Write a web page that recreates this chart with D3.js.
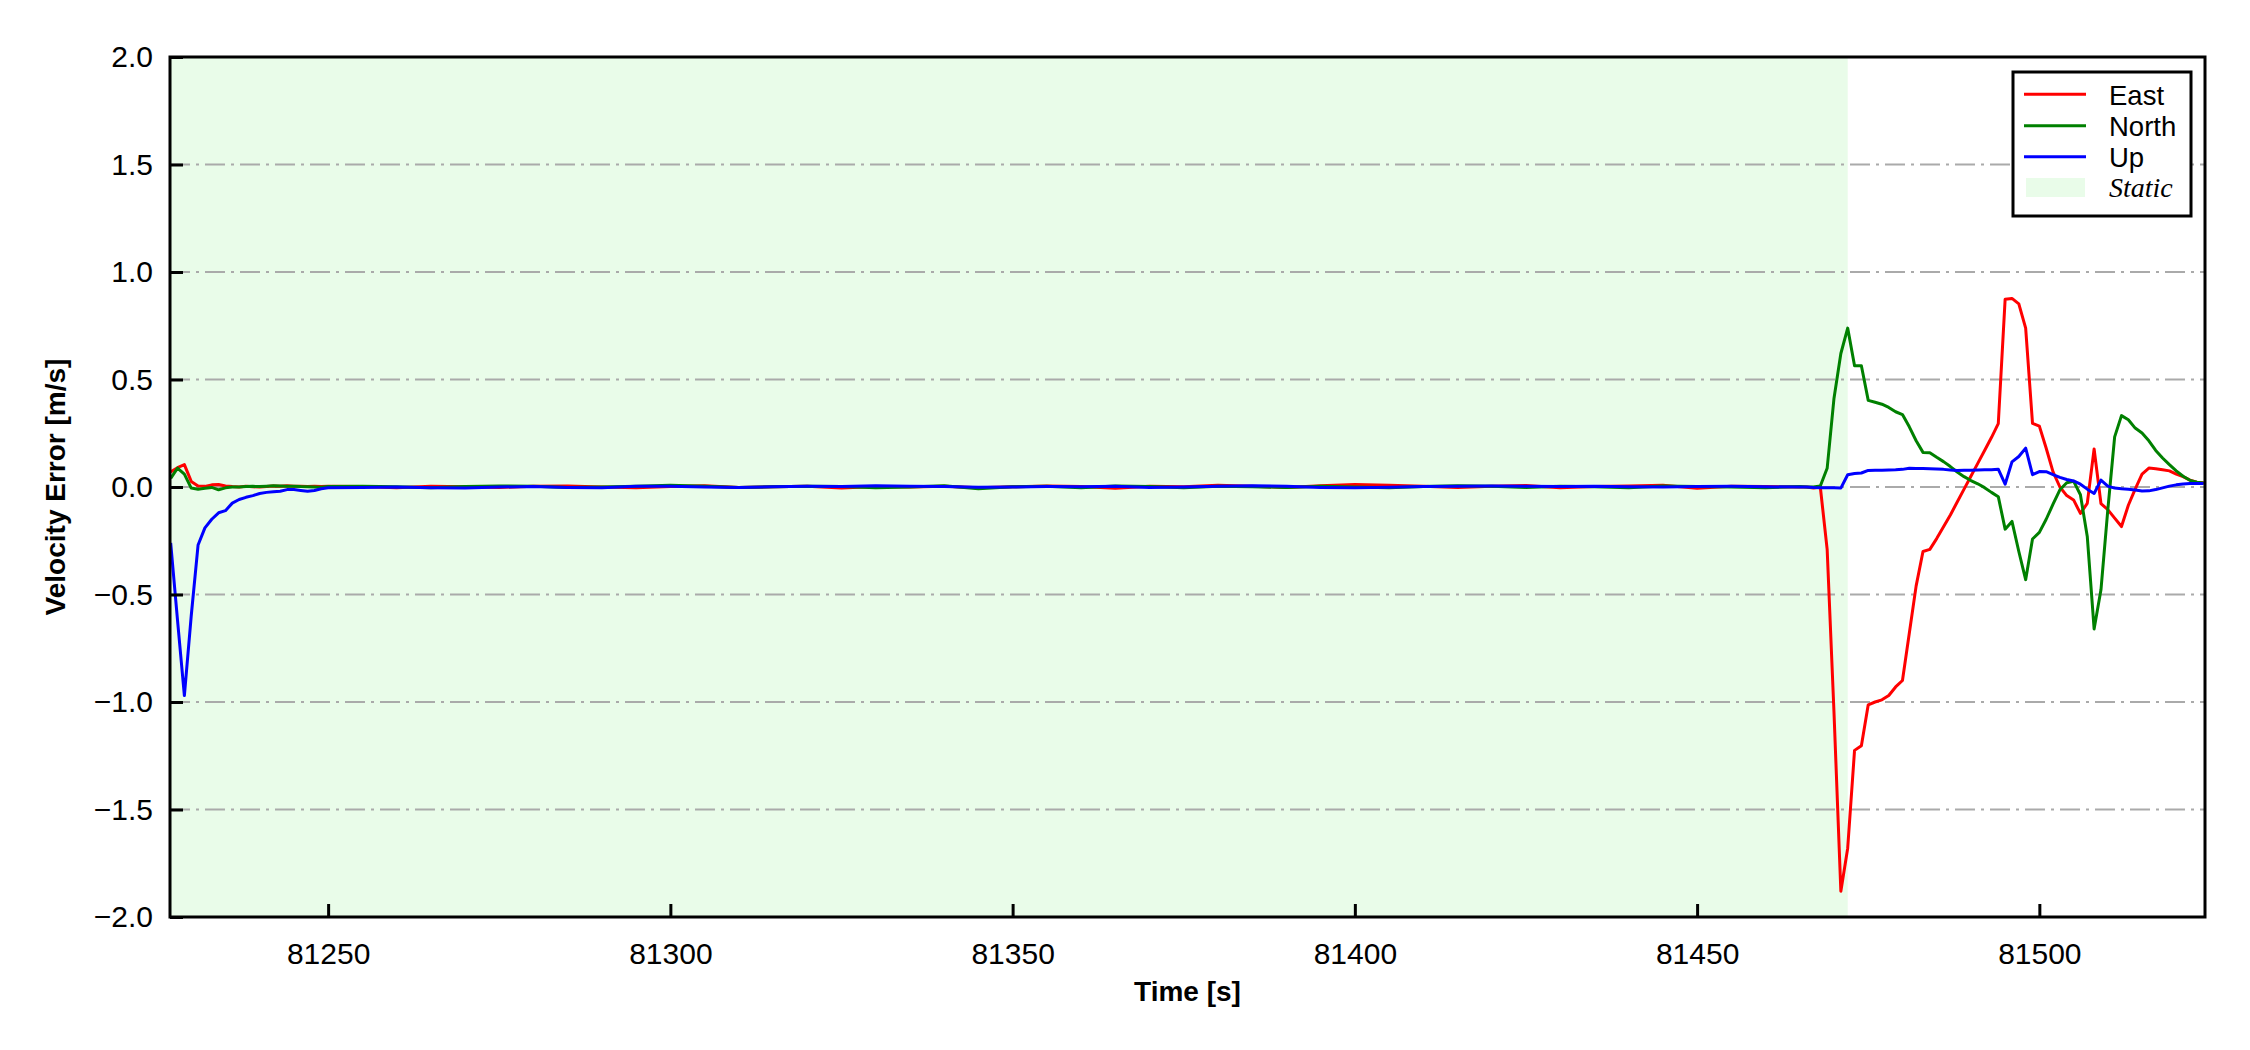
<!DOCTYPE html>
<html>
<head>
<meta charset="utf-8">
<script src="https://cdn.jsdelivr.net/npm/d3@7"></script>
<style>
  html, body { margin: 0; padding: 0; background: #fff; }
  svg { display: block; }
</style>
</head>
<body>
<svg id="chart" width="2250" height="1050"></svg>
<script>
// ---------------- DATA ----------------
const times = [
  81227, 81228, 81229, 81230, 81231, 81232, 81233, 81234, 81235, 81236,
  81237, 81238, 81239, 81240, 81241, 81242, 81243, 81244, 81245, 81246,
  81247, 81248, 81249, 81250,
  81255, 81260, 81265, 81270, 81275, 81280, 81285, 81290, 81295, 81300,
  81305, 81310, 81315, 81320, 81325, 81330, 81335, 81340, 81345, 81350,
  81355, 81360, 81365, 81370, 81375, 81380, 81385, 81390, 81395, 81400,
  81405, 81410, 81415, 81420, 81425, 81430, 81435, 81440, 81445, 81450,
  81455, 81460, 81465,
  81466, 81467, 81468, 81469, 81470, 81471, 81472, 81473, 81474, 81475,
  81476, 81477, 81478, 81479, 81480, 81481, 81482, 81483, 81484, 81485,
  81486, 81487, 81488, 81489, 81490, 81491, 81492, 81493, 81494, 81495,
  81496, 81497, 81498, 81499, 81500, 81501, 81502, 81503, 81504, 81505,
  81506, 81507, 81508, 81509, 81510, 81511, 81512, 81513, 81514, 81515,
  81516, 81517, 81518, 81519, 81520, 81521, 81522, 81523, 81524
];

const east = [
  0.07, 0.09, 0.104, 0.026, 0.005, 0.003, 0.01, 0.012, 0.005, 0.002,
  0.0, 0.003, 0.001, 0.0, 0.002, 0.005, 0.004, 0.006, 0.004, 0.004,
  0.002, 0.003, 0.002, 0.003,
  0.002, -0.003, 0.004, 0.001, -0.002, 0.003, 0.005, 0.0, -0.004, 0.002,
  0.006, -0.002, 0.001, 0.003, -0.005, 0.002, 0.0, 0.004, -0.003, 0.001,
  0.005, 0.002, -0.006, 0.003, 0.001, 0.008, 0.004, -0.002, 0.006, 0.012,
  0.008, 0.003, -0.002, 0.004, 0.007, -0.003, 0.002, 0.005, 0.008, -0.006,
  0.004, 0.002, 0.0,
  0.0, -0.005, 0.0, -0.29, -1.05, -1.88, -1.68, -1.225, -1.203, -1.013,
  -1.0, -0.99, -0.97, -0.93, -0.9, -0.68, -0.46, -0.3, -0.29, -0.24,
  -0.185, -0.13, -0.07, -0.01, 0.05, 0.11, 0.17, 0.23, 0.295, 0.873,
  0.877, 0.852, 0.739, 0.296, 0.283, 0.18, 0.07, 0.0, -0.04, -0.06,
  -0.123, -0.076, 0.177, -0.077, -0.105, -0.145, -0.184, -0.085, -0.01, 0.06,
  0.088, 0.085, 0.08, 0.075, 0.06, 0.048, 0.032, 0.022, 0.02
];

const north = [
  0.04, 0.088, 0.06, -0.005, -0.01, -0.006, -0.002, -0.013, -0.004, 0.0,
  0.0, 0.002, 0.003, 0.002, 0.004, 0.006, 0.005, 0.003, 0.004, 0.002,
  0.001, 0.0, -0.001, 0.002,
  0.004, 0.001, -0.003, 0.002, 0.005, 0.003, -0.002, 0.0, 0.004, 0.008,
  0.003, -0.002, 0.001, 0.004, 0.002, -0.003, 0.0, 0.006, -0.008, 0.001,
  0.003, -0.004, 0.005, 0.002, -0.003, 0.004, 0.001, -0.002, 0.003, 0.0,
  -0.004, 0.002, 0.006, 0.003, -0.002, 0.004, 0.001, -0.003, 0.005, 0.002,
  0.0, -0.003, 0.002,
  0.0, 0.0, 0.005, 0.087, 0.413, 0.621, 0.739, 0.564, 0.564, 0.403,
  0.394, 0.385, 0.37, 0.35, 0.337, 0.28, 0.215, 0.161, 0.159, 0.138,
  0.118, 0.095, 0.07, 0.048, 0.03, 0.015, -0.003, -0.025, -0.045, -0.196,
  -0.16, -0.3, -0.431, -0.242, -0.211, -0.15, -0.08, -0.013, 0.02, 0.027,
  -0.036, -0.23, -0.66, -0.478, -0.106, 0.233, 0.332, 0.313, 0.274, 0.251,
  0.215, 0.17, 0.135, 0.104, 0.075, 0.05, 0.031, 0.022, 0.019
];

const up = [
  -0.26, -0.62, -0.97, -0.6, -0.27, -0.19, -0.15, -0.12, -0.11, -0.075,
  -0.058, -0.048, -0.04, -0.03, -0.025, -0.022, -0.02, -0.012, -0.012, -0.016,
  -0.02, -0.016, -0.008, -0.004,
  -0.002, 0.0, -0.003, -0.005, 0.0, 0.002, -0.002, -0.004, 0.003, 0.004,
  0.0, -0.002, 0.001, 0.003, 0.002, 0.006, 0.004, 0.002, -0.001, 0.0,
  0.002, 0.001, 0.003, -0.002, 0.0, 0.004, 0.006, 0.003, -0.002, -0.004,
  -0.001, 0.002, 0.004, 0.005, 0.003, 0.002, 0.004, 0.001, 0.0, 0.002,
  0.003, 0.001, 0.0,
  0.0, -0.002, -0.003, -0.003, -0.004, -0.005, 0.057, 0.063, 0.065, 0.077,
  0.078, 0.078, 0.079, 0.08, 0.082, 0.087, 0.086, 0.086, 0.085, 0.084,
  0.082, 0.079, 0.077, 0.078, 0.078, 0.079, 0.08, 0.08, 0.083, 0.013,
  0.117, 0.142, 0.181, 0.057, 0.072, 0.071, 0.058, 0.045, 0.035, 0.028,
  0.013, -0.01, -0.03, 0.032, 0.004, -0.005, -0.008, -0.01, -0.014, -0.019,
  -0.018, -0.012, -0.004, 0.004, 0.01, 0.014, 0.016, 0.016, 0.016
];

const staticEnd = 81472;
const xTicks = [81250, 81300, 81350, 81400, 81450, 81500];
const yTicks = [-2.0, -1.5, -1.0, -0.5, 0.0, 0.5, 1.0, 1.5, 2.0];
const gridTicks = [-1.5, -1.0, -0.5, 0.0, 0.5, 1.0, 1.5];
const seriesNames = ["East", "North", "Up"];
const seriesColors = ["#ff0000", "#008000", "#0000ff"];
const staticLabel = "Static";

// ---------------- LAYOUT ----------------
const svg = d3.select("#chart");
const L = 170, R = 2205, T = 57, B = 917;
const font = "'Liberation Sans', Arial, sans-serif";

const x = d3.scaleLinear().domain([81226.9, 81524.2]).range([L, R]);
const y = d3.scaleLinear().domain([-2, 2]).range([B, T]);

svg.append("defs").append("clipPath").attr("id", "clip")
  .append("rect").attr("x", L).attr("y", T).attr("width", R - L).attr("height", B - T);

// static shaded region
svg.append("rect")
  .attr("x", L).attr("y", T)
  .attr("width", x(staticEnd) - L).attr("height", B - T)
  .attr("fill", "#e9fce9");

// gridlines
svg.append("g").selectAll("line").data(gridTicks).join("line")
  .attr("x1", L).attr("x2", R)
  .attr("y1", d => y(d)).attr("y2", d => y(d))
  .attr("stroke", "#aaaaaa").attr("stroke-width", 2)
  .attr("stroke-dasharray", "20,6,3,6");

// lines
const seriesData = [east, north, up];
const line = d3.line().x((d, i) => x(times[i])).y(d => y(d));
svg.append("g").attr("clip-path", "url(#clip)")
  .selectAll("path").data(seriesData).join("path")
  .attr("d", d => line(d))
  .attr("fill", "none")
  .attr("stroke", (d, i) => seriesColors[i])
  .attr("stroke-width", 3)
  .attr("stroke-linejoin", "round");

// axes (inward ticks)
const xAxis = d3.axisBottom(x).tickValues(xTicks).tickFormat(d3.format("d"))
  .tickSize(-13).tickPadding(26);
const gx = svg.append("g").attr("transform", `translate(0,${B})`).call(xAxis);
gx.select(".domain").remove();
gx.selectAll(".tick line").attr("stroke", "#000").attr("stroke-width", 3);
gx.selectAll(".tick text").attr("font-family", font).attr("font-size", 30).attr("fill", "#000");

const yAxis = d3.axisLeft(y).tickValues(yTicks).tickFormat(d3.format(".1f"))
  .tickSize(-13).tickPadding(17);
const gy = svg.append("g").attr("transform", `translate(${L},0)`).call(yAxis);
gy.select(".domain").remove();
gy.selectAll(".tick line").attr("stroke", "#000").attr("stroke-width", 3);
gy.selectAll(".tick text").attr("font-family", font).attr("font-size", 30).attr("fill", "#000");

// frame
svg.append("rect")
  .attr("x", L).attr("y", T).attr("width", R - L).attr("height", B - T)
  .attr("fill", "none").attr("stroke", "#000").attr("stroke-width", 3);

// axis labels
svg.append("text")
  .attr("x", (L + R) / 2).attr("y", 1001)
  .attr("text-anchor", "middle")
  .attr("font-family", font).attr("font-weight", "bold").attr("font-size", 28)
  .text("Time [s]");

svg.append("text")
  .attr("transform", `translate(65,${(T + B) / 2}) rotate(-90)`)
  .attr("text-anchor", "middle")
  .attr("font-family", font).attr("font-weight", "bold").attr("font-size", 28)
  .text("Velocity Error [m/s]");

// legend
const lg = svg.append("g");
lg.append("rect")
  .attr("x", 2013).attr("y", 72).attr("width", 178).attr("height", 144)
  .attr("fill", "#fff").attr("stroke", "#000").attr("stroke-width", 3);
const rowY = [94.3, 125.7, 156.7, 187.3];
seriesNames.forEach((name, i) => {
  lg.append("line")
    .attr("x1", 2024).attr("x2", 2086)
    .attr("y1", rowY[i]).attr("y2", rowY[i])
    .attr("stroke", seriesColors[i]).attr("stroke-width", 3);
  lg.append("text")
    .attr("x", 2109).attr("y", rowY[i] + 10.5)
    .attr("font-family", font).attr("font-size", 27.5)
    .text(name);
});
lg.append("rect")
  .attr("x", 2026).attr("y", 178).attr("width", 59).attr("height", 19)
  .attr("fill", "#e9fce9");
lg.append("text")
  .attr("x", 2109).attr("y", rowY[3] + 10)
  .attr("font-family", "'Liberation Serif', 'Times New Roman', serif")
  .attr("font-style", "italic").attr("font-size", 28)
  .text(staticLabel);
</script>
</body>
</html>
